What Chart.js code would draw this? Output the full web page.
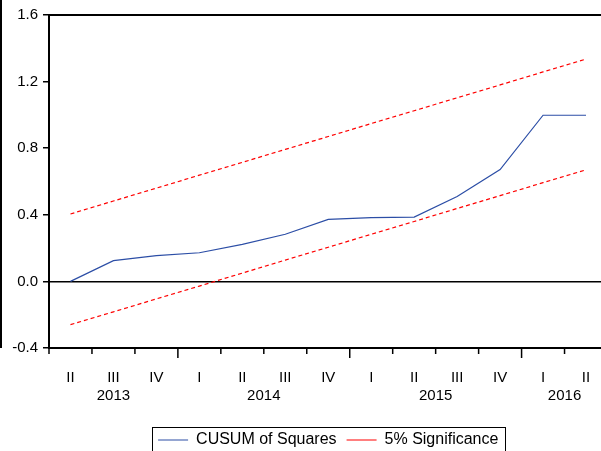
<!DOCTYPE html>
<html>
<head>
<meta charset="utf-8">
<script src="https://cdn.jsdelivr.net/npm/chart.js@4.4.0/dist/chart.umd.min.js"></script>
<style>
  html, body { margin: 0; padding: 0; background: #fff; overflow: hidden; }
  #wrap { width: 610px; height: 458px; }
</style>
</head>
<body>
<div id="wrap"><canvas id="myChart"></canvas></div>
<script>
// quarters 2013Q2 .. 2016Q2
const quarters = ["II", "III", "IV", "I", "II", "III", "IV", "I", "II", "III", "IV", "I", "II"];
const years = ["2013", "2013", "2013", "2014", "2014", "2014", "2014", "2015", "2015", "2015", "2015", "2016", "2016"];
const cusumSq = [0.0, 0.125, 0.155, 0.172, 0.222, 0.283, 0.372, 0.383, 0.386, 0.51, 0.672, 0.998, 0.998];
const upperBand = [0.405, 0.483, 0.560, 0.638, 0.715, 0.793, 0.870, 0.948, 1.025, 1.103, 1.180, 1.258, 1.335];
const lowerBand = [-0.260, -0.183, -0.105, -0.028, 0.050, 0.128, 0.205, 0.283, 0.360, 0.438, 0.515, 0.593, 0.670];
const yMin = -0.4, yMax = 1.6, yStep = 0.4;

const FONT = "'Liberation Sans', Arial, sans-serif";

const framePlugin = {
  id: 'frame',
  afterDraw(chart) {
    const { ctx, chartArea: a, scales: { x } } = chart;
    ctx.save();
    ctx.strokeStyle = '#000';
    ctx.lineWidth = 2;
    ctx.strokeRect(a.left, a.top, a.right - a.left, a.bottom - a.top);

    // leftover frame line at the very left
    ctx.fillStyle = '#000';
    ctx.fillRect(0, 0, 2, a.bottom);

    // x tick marks between quarters, longer ones at year start
    const half = (x.getPixelForValue(1) - x.getPixelForValue(0)) / 2;
    ctx.lineWidth = 1.5;
    for (let i = 0; i <= quarters.length; i++) {
      const px = x.getPixelForValue(i) - half;
      const len = quarters[i] === "I" ? 10 : 6;
      ctx.beginPath();
      ctx.moveTo(px, a.bottom);
      ctx.lineTo(px, a.bottom + len);
      ctx.stroke();
    }

    // year labels under the quarters
    ctx.font = "15px " + FONT;
    ctx.fillStyle = '#000';
    ctx.textAlign = 'center';
    ctx.textBaseline = 'middle';
    const groups = {};
    years.forEach((yr, i) => { (groups[yr] = groups[yr] || []).push(x.getPixelForValue(i)); });
    Object.keys(groups).forEach(yr => {
      const p = groups[yr];
      const cx = p.reduce((s, v) => s + v, 0) / p.length;
      ctx.fillText(yr, cx, a.bottom + 48);
    });

    // box round the legend
    const boxes = chart.legend.legendHitBoxes;
    if (boxes && boxes.length) {
      const l = boxes[0].left - 6;
      const last = boxes[boxes.length - 1];
      const r = last.left + last.width + 7;
      const t = boxes[0].top - 5;
      ctx.lineWidth = 1;
      ctx.strokeRect(Math.round(l) + 0.5, Math.round(t) + 0.5, Math.round(r - l), 40);
    }
    ctx.restore();
  }
};

new Chart("myChart", {
  type: "line",
  data: {
    labels: quarters,
    datasets: [
      {
        label: "CUSUM of Squares",
        data: cusumSq,
        borderColor: "#2c4ea6",
        backgroundColor: "#2c4ea6",
        borderWidth: 1.2,
        pointRadius: 0,
        tension: 0
      },
      {
        label: "5% Significance",
        data: upperBand,
        borderColor: "#ff0000",
        backgroundColor: "#ff0000",
        borderWidth: 1.2,
        borderDash: [4, 3],
        pointRadius: 0,
        tension: 0
      },
      {
        label: "5% Significance",
        data: lowerBand,
        borderColor: "#ff0000",
        backgroundColor: "#ff0000",
        borderWidth: 1.2,
        borderDash: [4, 3],
        pointRadius: 0,
        tension: 0
      }
    ]
  },
  options: {
    responsive: true,
    maintainAspectRatio: false,
    animation: false,
    layout: { padding: { top: 15, right: 2.5, left: 0, bottom: 0 } },
    scales: {
      x: {
        offset: true,
        grid: { display: false },
        border: { display: false },
        ticks: {
          autoSkip: false,
          maxRotation: 0,
          padding: 13,
          color: '#000',
          font: { family: FONT, size: 15 }
        },
        afterFit: s => { s.height = 74; }
      },
      y: {
        min: yMin,
        max: yMax,
        border: { display: false },
        grid: {
          drawOnChartArea: true,
          drawTicks: true,
          tickLength: 6,
          tickColor: '#000',
          tickWidth: 1.5,
          color: c => Math.abs(c.tick.value) < 1e-9 ? '#000' : 'rgba(0,0,0,0)',
          lineWidth: 1.5
        },
        ticks: {
          stepSize: yStep,
          padding: 5,
          color: '#000',
          font: { family: FONT, size: 15 },
          callback: v => Number(v).toFixed(1)
        },
        afterFit: s => { s.width = 49; }
      }
    },
    plugins: {
      tooltip: { enabled: false },
      legend: {
        position: 'bottom',
        fullSize: false,
        labels: {
          usePointStyle: true,
          pointStyle: 'line',
          pointStyleWidth: 30,
          padding: 10,
          color: '#000',
          font: { family: FONT, size: 16 },
          filter: item => item.datasetIndex !== 2
        }
      }
    }
  },
  plugins: [framePlugin]
});
</script>
</body>
</html>
